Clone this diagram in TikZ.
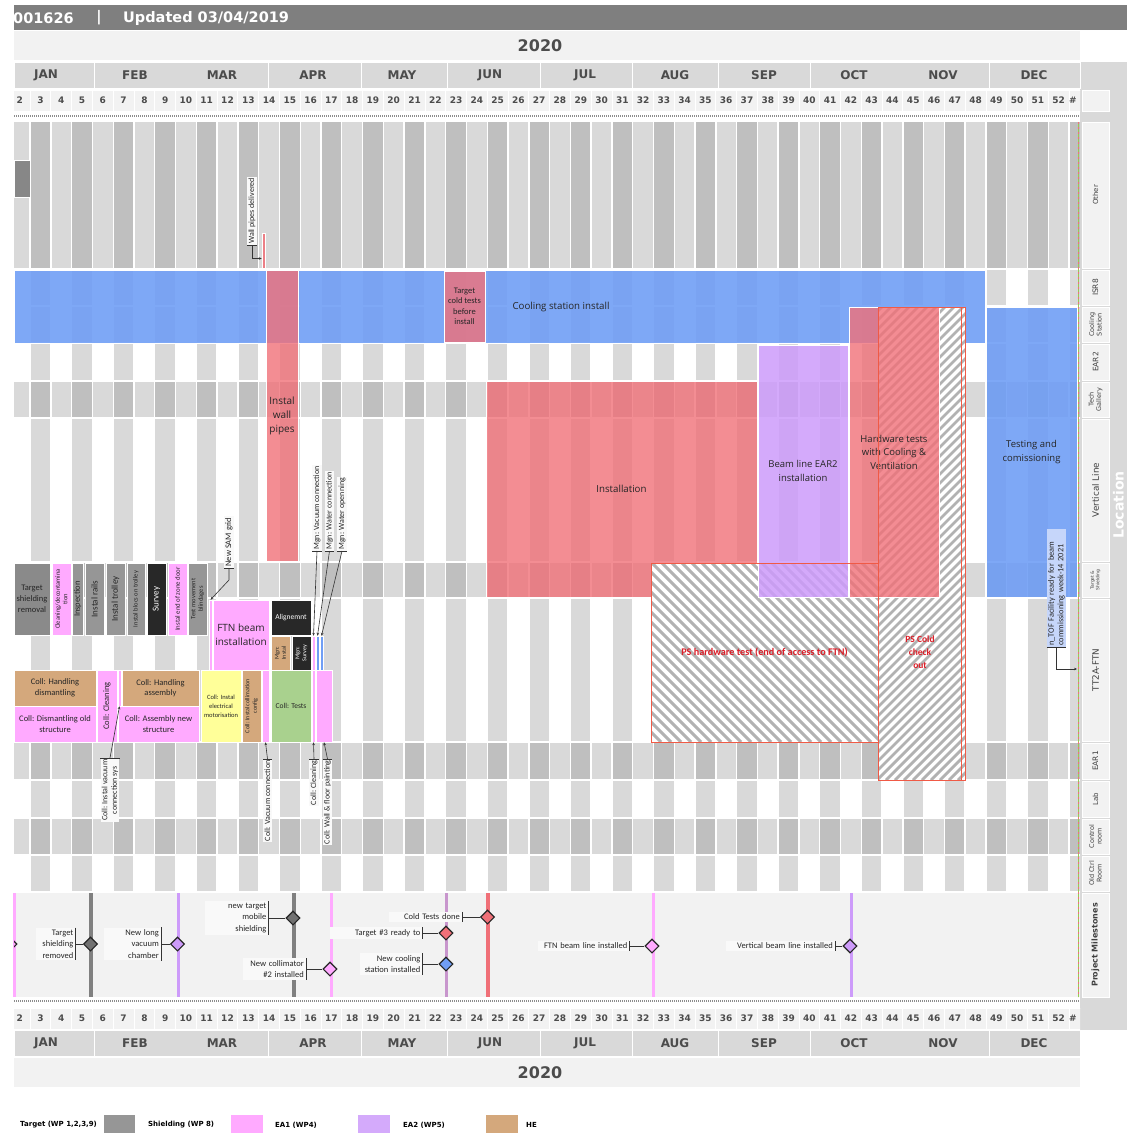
\documentclass[tikz,border=0pt]{standalone}
\usepackage{fontspec}
\setmainfont{Carlito}
\newfontfamily\dvs{DejaVu Sans}
\newfontfamily\osn{Open Sans}
\usetikzlibrary{arrows.meta,shapes.geometric,fit}
\definecolor{hdr}{RGB}{127,127,127}
\definecolor{lgt}{RGB}{242,242,242}
\definecolor{mid}{RGB}{217,217,217}
\definecolor{drk}{RGB}{191,191,191}
\definecolor{blu}{RGB}{112,158,245}
\definecolor{rd}{RGB}{240,112,120}
\definecolor{pur}{RGB}{205,155,250}
\definecolor{pnk}{RGB}{255,170,255}
\definecolor{hde}{RGB}{212,168,124}
\definecolor{gry}{RGB}{150,150,150}
\definecolor{sblk}{RGB}{40,40,40}
\definecolor{yel}{RGB}{255,255,153}
\definecolor{grn}{RGB}{169,209,142}
\definecolor{psl}{RGB}{240,90,70}
\definecolor{pst}{RGB}{220,30,40}
\definecolor{ntb}{RGB}{198,214,250}
\definecolor{mve}{RGB}{200,150,205}
\definecolor{hch}{RGB}{178,178,178}
\definecolor{tdy}{RGB}{146,208,80}
\newcommand{\wx}[1]{9.31+(#1-2)*20.78}
\begin{document}
\begin{tikzpicture}[x=1pt,y=-1pt,
    tbox/.style={draw=white, line width=0.8pt, inner sep=0pt},
    op/.style={fill opacity=#1},
    tsk/.style={font=\fontsize{8.5}{10.5}\selectfont, align=center, text=black!85, inner sep=0pt},
    big/.style={font=\osn\fontsize{9.7}{14}\selectfont, align=center, text=black!85, inner sep=0pt},
    vtx/.style={rotate=90, align=center, text=black!85, inner sep=0pt},
    cal/.style={rotate=90, fill=white!55!lgt, font=\fontsize{8}{9.5}\selectfont, inner sep=1.2pt, align=center, text=black!85},
    tk/.style={black!80, line width=0.9pt},
    cn/.style={black!80, line width=0.6pt},
    lnk/.style={black!80, line width=0.6pt, -{Stealth[length=3pt,width=2.6pt]}},
    msl/.style={anchor=east, fill=white!55!lgt, font=\fontsize{8.5}{11.5}\selectfont, align=right, inner sep=2pt, text=black!85},
    dm/.style={diamond, draw=black!85, line width=1.1pt, minimum size=14pt, inner sep=0pt},
    wk/.style={font=\dvs\bfseries\fontsize{9}{9}\selectfont, text=black!70},
    mo/.style={font=\dvs\bfseries\fontsize{12}{12}\selectfont, text=black!70},
    yr/.style={font=\dvs\bfseries\fontsize{16}{16}\selectfont, text=black!70},
    lg/.style={font=\dvs\bfseries\fontsize{7}{7}\selectfont, anchor=west, inner sep=0pt},
    hd/.style={font=\dvs\bfseries\fontsize{14.5}{14.5}\selectfont, text=white, inner sep=0pt}
  ]
\useasboundingbox (0,0) rectangle (1130,1133);

\fill[hdr] (14,5) rectangle (1127,30);
\node[hd, anchor=west] (edms) at (13,18) {001626};
\node[hd] (sep) at (99,18) {|};
\node[hd, anchor=west] (upd) at (123,18) {Updated 03/04/2019};

\fill[mid] (1080,62) rectangle (1127,1030);
\path[tbox, fill=lgt] (1082,90) rectangle (1109,111);
\foreach \ya/\yb/\txt/\f/\ld in {122/268/Other/7/8, 270/305/ISR8/7.5/8,
    307/342/{Cooling\\Station}/6.5/7.5, 344/380/EAR2/7.5/8, 382/417/{Tech\\Gallery}/6.5/7.5,
    419/561/Vertical Line/8.8/9, 563/597/{Target \&\\Shielding}/4.5/5.5, 599/741/TT2A-FTN/8.8/9,
    743/779/EAR1/7.5/8, 781/817/Lab/7/8, 819/854/{Control\\room}/6.5/7.5, 856/891/{Old Ctrl\\Room}/6.5/7.5} {
  \path[tbox, fill=lgt] (1082,\ya) rectangle (1109,\yb);
  \node[rotate=90, align=center, inner sep=0pt, text=black!75, font=\dvs\fontsize{\f}{\ld}\selectfont] (loc\ya) at (1095.5,{(\ya+\yb)/2}) {\txt};
}
\path[tbox, fill=lgt] (1082,893) rectangle (1109,997);
\node[rotate=90, inner sep=0pt, text=black!75, font=\dvs\bfseries\fontsize{8}{8}\selectfont] (locms) at (1095.5,945) {Project Milestones};
\node[rotate=90, inner sep=0pt, text=white, font=\dvs\bfseries\fontsize{14}{14}\selectfont] (locn) at (1118.5,505) {Location};

\foreach \yw/\ym/\yy/\yd/\s in {100.5/75/45.5/116/t, 1018.5/1043.5/1072.5/1001/b} {
  \fill[lgt] (14,\yy-14.5) rectangle (1080,\yy+14.5);
  \node[yr] (yr\s) at (540,\yy) {2020};
  \foreach \xa/\xb in {14/94,94/268,268/361,361/447,447/540,540/632,632/718,718/810,810/989,989/1080}
    \path[tbox, fill=mid] (\xa,\ym-13) rectangle (\xb,\ym+13);
  \foreach \x/\m in {46/JAN,135/FEB,222/MAR,313/APR,402/MAY,490/JUN,585/JUL,675/AUG,764/SEP,854/OCT,943/NOV,1034/DEC}
    \node[mo] (\m\s) at (\x,\ym) {\m};
  \begin{scope}
    \clip (14,0) rectangle (1080,1133);
    \foreach \w in {2,...,53}
      \path[tbox, fill=lgt] ({\wx{\w}},\yw-10.5) rectangle ({\wx{\w}+20.78},\yw+10.5);
  \end{scope}
  \foreach \w in {2,...,52}
    \node[wk] (wk\w\s) at ({\wx{\w}+10.39},\yw) {\w};
  \node[wk] (wk53\s) at (1073,\yw) {\#};
  \draw[black!45, line width=2.5pt, dash pattern=on 1pt off 1pt] (14,\yd) -- (1080,\yd);
}

\begin{scope}
  \clip (14,0) rectangle (1080,1133);
  \foreach \ya/\yb in {122/268,382/417,563/597,743/779,819/854} {
    \foreach \w in {2,4,...,52}
      \fill[mid] ({\wx{\w}+0.7},\ya) rectangle ({\wx{\w}+20.08},\yb);
    \foreach \w in {3,5,...,53}
      \fill[drk] ({\wx{\w}+0.7},\ya) rectangle ({\wx{\w}+20.08},\yb);
  }
  \foreach \ya/\yb in {270/305,307/342,344/380,419/561,599/741,781/817,856/891}
    \foreach \w in {3,5,...,53}
      \fill[mid] ({\wx{\w}+0.7},\ya) rectangle ({\wx{\w}+20.08},\yb);
\end{scope}
\fill[lgt] (14,893) rectangle (1080,997);

\node[tbox, fill=gry!90!black, fit={(14,160)(30,197)}] (obx) {};
\node[tbox, line width=0.5pt, fill=rd, op=.85, fit={(262,233)(265,268)}] (wpbar) {};

\node[tbox, fill=blu, op=.9, fit={(14,270)(985,343)}] (csb) {};
\node[big] (csi) at (561,307) {Cooling station install};
\node[tbox, fill=rd, op=.8, fit={(266,270)(298,561)}] (iwp) {};
\node[big, font=\osn\fontsize{10}{14}\selectfont] (iwpt) at (iwp) {Instal\\wall\\pipes};
\node[tbox, fill=rd, op=.8, fit={(444,271)(485,342)}] (tct) {};
\node[tsk] (tctt) at (tct) {Target\\cold tests\\before\\install};
\node[tbox, fill=rd, op=.8, fit={(486,381)(757,597)}] (inst) {};
\node[big] (instt) at (inst) {Installation};

\begin{scope}
  \clip (651,563) rectangle (878,742);
  \fill[white] (651,563) rectangle (878,742);
  \foreach \i in {462,472,...,882}
    \draw[hch, line width=3pt] (\i,563) -- ++(179,179);
\end{scope}
\begin{scope}
  \clip (878,307) rectangle (965,780);
  \fill[white] (878,307) rectangle (965,780);
  \foreach \i in {400,409,...,970}
    \draw[hch, line width=2.8pt] (\i,780) -- ++(473,-473);
\end{scope}

\node[tbox, fill=pur, op=.85, fit={(758,345)(848,597)}] (ear2) {};
\node[big, font=\osn\fontsize{9.5}{14}\selectfont] (ear2t) at (ear2) {Beam line EAR2\\installation};
\node[tbox, fill=rd, op=.8, fit={(849,307)(939,597)}] (hwt) {};
\node[big, font=\osn\fontsize{9.5}{13.5}\selectfont] (hwtt) at (hwt) {Hardware tests\\with Cooling \&\\Ventilation};
\node[draw=psl, line width=0.8pt, inner sep=0pt, fit={(651,563)(878,742)}] (psh) {};
\node[font=\bfseries\fontsize{10.2}{11}\selectfont, text=pst, inner sep=0pt] (psht) at (psh) {PS hardware test (end of access to FTN)};
\node[draw=psl, line width=0.8pt, inner sep=0pt, fit={(878,307)(965,780)}] (psc) {};
\draw[psl, line width=0.8pt] (961,307) -- (961,780);
\node[font=\bfseries\fontsize{9.5}{12.7}\selectfont, text=pst, align=center] (psct) at (920,652) {PS Cold\\check\\out};

\node[tbox, fill=blu, op=.9, fit={(986,307)(1077,597)}] (tnc) {};
\node[big, font=\osn\fontsize{9.5}{14}\selectfont] (tnct) at (tnc) {Testing and\\comissioning};
\node[cal, fill=ntb, anchor=west, font=\fontsize{8.3}{9.5}\selectfont, text width=115pt, align=left] (ntf) at (1056.5,647) {n\_TOF Facility ready for beam\\commissioning week-14 2021};
\draw[tk] (ntf.north west) -- (ntf.south west);
\coordinate (ntip) at (1077,669);
\draw[lnk] (ntf.west) |- (ntip);

\node[tbox, fill=gry!92!black, fit={(14,563)(50,635)}] (tsr) {};
\node[tsk, font=\fontsize{8.5}{11}\selectfont] (tsrt) at (tsr) {Target\\shielding\\removal};
\node[tbox, fill=pnk, fit={(52,563)(71,635)}] (cdc) {};
\node[vtx, font=\fontsize{6.5}{7.5}\selectfont] (cdct) at (cdc) {Cleaning/decontamina\\tion};
\node[tbox, fill=gry, fit={(72,563)(83,635)}] (insp) {};
\node[vtx, font=\fontsize{8.5}{9}\selectfont] (inspt) at (insp) {Inspection};
\node[tbox, fill=gry, fit={(85,563)(104,635)}] (irl) {};
\node[vtx, font=\fontsize{9}{9}\selectfont] (irlt) at (irl) {Instal rails};
\node[tbox, fill=gry, fit={(106,563)(125,635)}] (itr) {};
\node[vtx, font=\fontsize{9}{9}\selectfont] (itrt) at (itr) {Instal trolley};
\node[tbox, fill=gry, fit={(127,563)(145,635)}] (ibt) {};
\node[vtx, font=\fontsize{6.5}{7}\selectfont] (ibtt) at (ibt) {Instal blocs on trolley};
\node[tbox, fill=sblk, fit={(147,563)(166,635)}] (srv) {};
\node[vtx, text=white, font=\fontsize{9}{9}\selectfont] (srvt) at (srv) {Survey};
\node[tbox, fill=pnk, fit={(168,563)(187,635)}] (iez) {};
\node[vtx, font=\fontsize{6.8}{7}\selectfont] (iezt) at (iez) {Instal end of zone door};
\node[tbox, fill=gry, fit={(188,563)(207,635)}] (tmb) {};
\node[vtx, font=\fontsize{6.5}{7.5}\selectfont] (tmbt) at (tmb) {Test movement\\blindages};

\node[tbox, line width=.5pt, fill=pnk, fit={(209,600)(212,670)}] (sgbar) {};
\node[tbox, fill=pnk, fit={(213,600)(269,670)}] (ftn) {};
\node[big, font=\osn\fontsize{10}{14}\selectfont] (ftnt) at (ftn) {FTN beam\\installation};
\node[tbox, fill=sblk, fit={(271,600)(311,635)}] (aln) {};
\node[tsk, text=white, font=\fontsize{7.5}{9}\selectfont] (alnt) at (aln) {Alignemnt};
\node[tbox, fill=hde, fit={(271,636)(290,670)}] (mgi) {};
\node[vtx, font=\fontsize{6}{7}\selectfont] (mgit) at (mgi) {Mgn:\\Instal};
\node[tbox, fill=sblk, fit={(292,636)(311,670)}] (mgs) {};
\node[vtx, text=white, font=\fontsize{6}{7}\selectfont] (mgst) at (mgs) {Mgn:\\Survey};
\node[tbox, line width=.5pt, fill=pnk, fit={(312,636)(315,670)}] (vcbar) {};
\node[tbox, line width=.5pt, fill=blu, fit={(316,636)(319,670)}] (wcbar) {};
\node[tbox, line width=.5pt, fill=blu, fit={(320,636)(323,670)}] (wobar) {};

\node[tbox, fill=hde, fit={(14,670)(96,706)}] (chd) {};
\node[tsk] (chdt) at (chd) {Coll: Handling\\dismantling};
\node[tbox, fill=pnk, fit={(14,706)(96,742)}] (cdo) {};
\node[tsk] (cdot) at (cdo) {Coll: Dismantling old\\structure};
\node[tbox, fill=pnk, fit={(97,670)(117,742)}] (ccl) {};
\node[vtx, font=\fontsize{8.5}{9}\selectfont] (cclt) at (ccl) {Coll: Cleaning};
\node[tbox, line width=.5pt, fill=pnk, fit={(118,670)(121,706)}] (ivbar) {};
\node[tbox, fill=hde, fit={(122,670)(199,706)}] (cha) {};
\node[tsk] (chat) at (cha) {Coll: Handling\\assembly};
\node[tbox, fill=pnk, fit={(118,706)(199,742)}] (cas) {};
\node[tsk] (cast) at (cas) {Coll: Assembly new\\structure};
\node[tbox, fill=yel, fit={(201,670)(241,742)}] (cem) {};
\node[tsk, font=\fontsize{6.5}{9}\selectfont] (cemt) at (cem) {Coll: Instal\\electrical\\motorisation};
\node[tbox, fill=hde, fit={(242,670)(261,742)}] (ccc) {};
\node[vtx, font=\fontsize{6}{7.5}\selectfont] (ccct) at (ccc) {Coll: Instal collimation\\config};
\node[tbox, line width=.5pt, fill=pnk, fit={(262,670)(269,742)}] (vbar) {};
\node[tbox, fill=grn, fit={(271,670)(311,742)}] (cts) {};
\node[tsk, font=\fontsize{7.5}{9}\selectfont] (ctst) at (cts) {Coll: Tests};
\node[tbox, line width=.5pt, fill=pnk, fit={(312,670)(315,742)}] (clbar) {};
\node[tbox, line width=.5pt, fill=pnk, fit={(316,670)(332,742)}] (wfbar) {};

\node[cal, anchor=west] (wpd) at (252,245) {Wall pipes delivered};
\draw[tk] (wpd.north west) -- (wpd.south west);
\draw[lnk] (wpd.west) |- ([yshift=-8pt]wpbar.west);
\node[cal, anchor=west, font=\fontsize{8.5}{9.5}\selectfont] (nsg) at (229,568) {New SAM grid};
\draw[tk] (nsg.north west) -- (nsg.south west);
\draw[lnk] (nsg.west) -- ++(0,12) -- (sgbar.north);
\node[cal, anchor=west] (mvc) at (317,551) {Mgn: Vacuum connection};
\node[cal, anchor=west] (mwc) at (329.5,551) {Mgn: Water connection};
\node[cal, anchor=west] (mwo) at (342,551) {Mgn: Water openning};
\foreach \n/\b in {mvc/vcbar, mwc/wcbar, mwo/wobar} {
  \draw[tk] (\n.north west) -- (\n.south west);
  \draw[lnk] (\n.west) -- (\b.north);
}
\node[cal, anchor=east] (civ) at (110,758) {Coll: Instal vacuum\\connection sys};
\node[cal, anchor=east] (cvc) at (267.5,759) {Coll: Vacuum connection};
\node[cal, anchor=east] (ccn) at (314,759) {Coll: Cleaning};
\node[cal, anchor=east] (cwf) at (327.5,759) {Coll: Wall \& floor painting};
\foreach \n/\b in {civ/ivbar, cvc/vbar, ccn/clbar, cwf/wfbar} {
  \draw[tk] (\n.north east) -- (\n.south east);
  \draw[lnk] (\n.east) -- (\b.south);
}

\foreach \x/\cc/\w in {14.5/pnk/3, 91/gry!85!black/4, 178/pur/3, 293.5/gry!85!black/4, 331/pnk/3, 446.5/mve/3.5, 488/rd/4, 653/pnk/3, 851.5/pur/3}
  \draw[\cc, line width=\w pt] (\x,893) -- (\x,997);
\begin{scope}
  \clip (14,893) rectangle (40,997);
  \node[dm, fill=pnk] (ms1) at (10,944) {};
\end{scope}
\node[dm, fill=gry!75!black] (ms2) at (90.5,944) {};
\node[msl, text width=35pt] (ml2) at (75.5,944) {Target\\shielding\\removed};
\node[dm, fill=pur] (ms3) at (177.5,944) {};
\node[msl, text width=53pt] (ml3) at (161,944) {New long\\vacuum\\chamber};
\node[dm, fill=gry!75!black] (ms4) at (293,918) {};
\node[msl, text width=59pt] (ml4) at (268.5,918) {new target\\mobile\\shielding};
\node[dm, fill=pnk] (ms5) at (330,969) {};
\node[msl, text width=59pt] (ml5) at (306,969) {New collimator\\\#2 installed};
\node[dm, fill=rd] (ms6) at (446,933) {};
\node[msl, text width=88pt] (ml6) at (422.5,933) {Target \#3 ready to};
\node[dm, fill=blu] (ms7) at (446,964) {};
\node[msl, text width=58pt] (ml7) at (422.5,964) {New cooling\\station installed};
\node[dm, fill=rd] (ms8) at (487.5,917) {};
\node[msl, text width=69pt] (ml8) at (462,917) {Cold Tests done};
\node[dm, fill=pnk] (ms9) at (652,946) {};
\node[msl, text width=87pt] (ml9) at (629.5,946) {FTN beam line installed};
\node[dm, fill=pur] (ms10) at (850,946) {};
\node[msl, text width=105pt] (ml10) at (835,946) {Vertical beam line installed};
\foreach \k in {2,...,10} {
  \draw[tk] (ml\k.north east) -- (ml\k.south east);
  \draw[cn] (ml\k.east) -- (ms\k.west);
}

\draw[tdy, line width=1pt] (1078.5,122) -- (1078.5,997);
\draw[rd, line width=0.8pt, dash pattern=on 2pt off 3pt] (1078.5,122) -- (1078.5,997);

\node[lg] (lgt1) at (20,1125) {Target (WP 1,2,3,9)};
\node[tbox, fill=gry, fit={(103,1114)(135,1133)}] (lgb1) {};
\node[lg] (lgt2) at (148,1125) {Shielding (WP 8)};
\node[tbox, fill=pnk, fit={(230,1114)(263,1133)}] (lgb2) {};
\node[lg] (lgt3) at (275,1125) {EA1 (WP4)};
\node[tbox, fill=pur, op=.85, fit={(357,1114)(390,1133)}] (lgb3) {};
\node[lg] (lgt4) at (403,1125) {EA2 (WP5)};
\node[tbox, fill=hde, fit={(485,1114)(518,1133)}] (lgb4) {};
\node[lg] (lgt5) at (526,1125) {HE};
\end{tikzpicture}
\end{document}
